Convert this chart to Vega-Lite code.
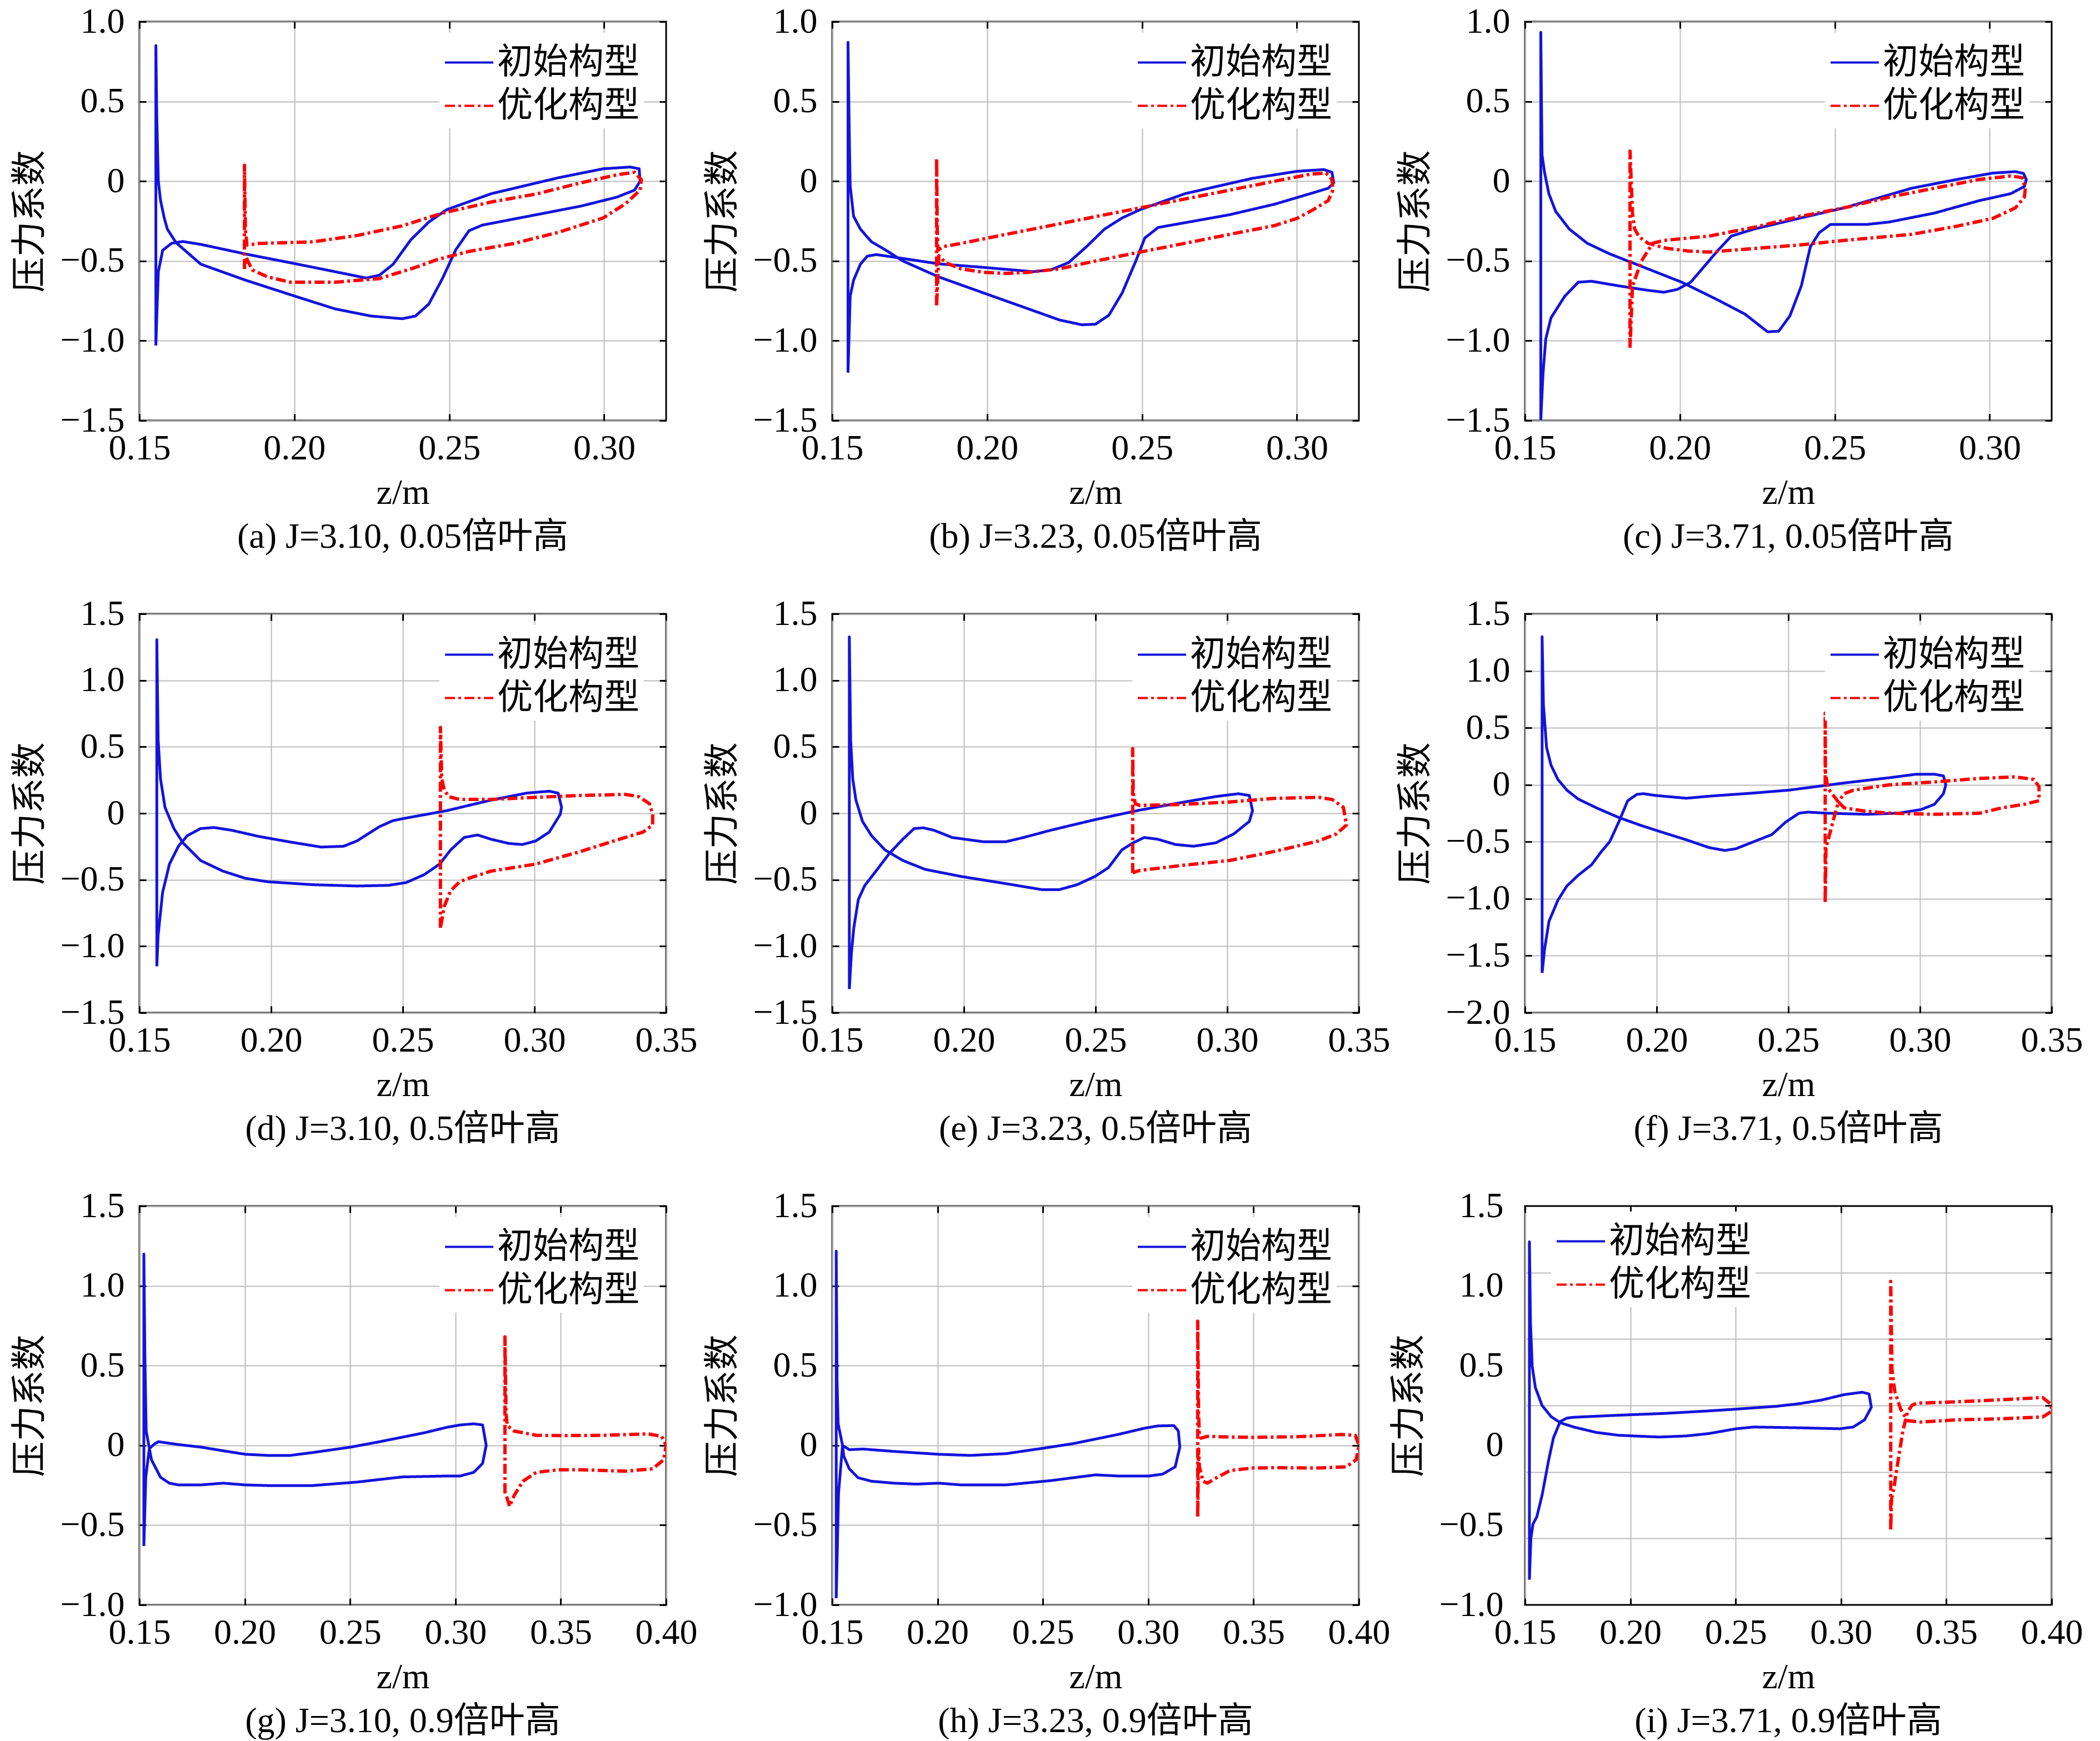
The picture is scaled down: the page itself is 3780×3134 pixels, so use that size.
{
  "$schema": "https://vega.github.io/schema/vega-lite/v6.json",
  "background": "white",
  "padding": {"left": 21, "top": 5, "right": 5, "bottom": 5},
  "data": {"values": [
    {"p":"a","s":"初始构型","i":1,"x":0.1553,"y":-1.03},
    {"p":"a","s":"初始构型","i":2,"x":0.1553,"y":0.85},
    {"p":"a","s":"初始构型","i":3,"x":0.1556,"y":0.40},
    {"p":"a","s":"初始构型","i":4,"x":0.1561,"y":0.0},
    {"p":"a","s":"初始构型","i":5,"x":0.1568,"y":-0.12},
    {"p":"a","s":"初始构型","i":6,"x":0.1580,"y":-0.23},
    {"p":"a","s":"初始构型","i":7,"x":0.1590,"y":-0.30},
    {"p":"a","s":"初始构型","i":8,"x":0.1618,"y":-0.385},
    {"p":"a","s":"初始构型","i":9,"x":0.1698,"y":-0.52},
    {"p":"a","s":"初始构型","i":10,"x":0.1842,"y":-0.62},
    {"p":"a","s":"初始构型","i":11,"x":0.2001,"y":-0.72},
    {"p":"a","s":"初始构型","i":12,"x":0.2131,"y":-0.80},
    {"p":"a","s":"初始构型","i":13,"x":0.2247,"y":-0.845},
    {"p":"a","s":"初始构型","i":14,"x":0.2348,"y":-0.862},
    {"p":"a","s":"初始构型","i":15,"x":0.2391,"y":-0.845},
    {"p":"a","s":"初始构型","i":16,"x":0.2434,"y":-0.77},
    {"p":"a","s":"初始构型","i":17,"x":0.2478,"y":-0.61},
    {"p":"a","s":"初始构型","i":18,"x":0.2521,"y":-0.43},
    {"p":"a","s":"初始构型","i":19,"x":0.2564,"y":-0.31},
    {"p":"a","s":"初始构型","i":20,"x":0.2607,"y":-0.275},
    {"p":"a","s":"初始构型","i":21,"x":0.2781,"y":-0.21},
    {"p":"a","s":"初始构型","i":22,"x":0.2925,"y":-0.156},
    {"p":"a","s":"初始构型","i":23,"x":0.3041,"y":-0.10},
    {"p":"a","s":"初始构型","i":24,"x":0.3098,"y":-0.056},
    {"p":"a","s":"初始构型","i":25,"x":0.3116,"y":0.0},
    {"p":"a","s":"初始构型","i":26,"x":0.3113,"y":0.078},
    {"p":"a","s":"初始构型","i":27,"x":0.3084,"y":0.089},
    {"p":"a","s":"初始构型","i":28,"x":0.2997,"y":0.078},
    {"p":"a","s":"初始构型","i":29,"x":0.2853,"y":0.022},
    {"p":"a","s":"初始构型","i":30,"x":0.2636,"y":-0.078},
    {"p":"a","s":"初始构型","i":31,"x":0.2492,"y":-0.178},
    {"p":"a","s":"初始构型","i":32,"x":0.2434,"y":-0.256},
    {"p":"a","s":"初始构型","i":33,"x":0.2376,"y":-0.367},
    {"p":"a","s":"初始构型","i":34,"x":0.2319,"y":-0.52},
    {"p":"a","s":"初始构型","i":35,"x":0.2275,"y":-0.589},
    {"p":"a","s":"初始构型","i":36,"x":0.2232,"y":-0.607},
    {"p":"a","s":"初始构型","i":37,"x":0.2131,"y":-0.567},
    {"p":"a","s":"初始构型","i":38,"x":0.1987,"y":-0.511},
    {"p":"a","s":"初始构型","i":39,"x":0.1842,"y":-0.456},
    {"p":"a","s":"初始构型","i":40,"x":0.1698,"y":-0.396},
    {"p":"a","s":"初始构型","i":41,"x":0.1640,"y":-0.378},
    {"p":"a","s":"初始构型","i":42,"x":0.1604,"y":-0.389},
    {"p":"a","s":"初始构型","i":43,"x":0.1575,"y":-0.433},
    {"p":"a","s":"初始构型","i":44,"x":0.1561,"y":-0.567},
    {"p":"a","s":"初始构型","i":45,"x":0.1556,"y":-0.85},
    {"p":"a","s":"初始构型","i":46,"x":0.1553,"y":-1.03},

    {"p":"a","s":"优化构型","i":1,"x":0.1839,"y":-0.55},
    {"p":"a","s":"优化构型","i":2,"x":0.1839,"y":0.10},
    {"p":"a","s":"优化构型","i":3,"x":0.1842,"y":-0.30},
    {"p":"a","s":"优化构型","i":4,"x":0.1847,"y":-0.40},
    {"p":"a","s":"优化构型","i":5,"x":0.1886,"y":-0.39},
    {"p":"a","s":"优化构型","i":6,"x":0.2059,"y":-0.38},
    {"p":"a","s":"优化构型","i":7,"x":0.2203,"y":-0.34},
    {"p":"a","s":"优化构型","i":8,"x":0.2348,"y":-0.28},
    {"p":"a","s":"优化构型","i":9,"x":0.2478,"y":-0.20},
    {"p":"a","s":"优化构型","i":10,"x":0.2636,"y":-0.13},
    {"p":"a","s":"优化构型","i":11,"x":0.2781,"y":-0.08},
    {"p":"a","s":"优化构型","i":12,"x":0.2925,"y":-0.01},
    {"p":"a","s":"优化构型","i":13,"x":0.3041,"y":0.04},
    {"p":"a","s":"优化构型","i":14,"x":0.3098,"y":0.056},
    {"p":"a","s":"优化构型","i":15,"x":0.3120,"y":0.01},
    {"p":"a","s":"优化构型","i":16,"x":0.3116,"y":-0.056},
    {"p":"a","s":"优化构型","i":17,"x":0.3070,"y":-0.14},
    {"p":"a","s":"优化构型","i":18,"x":0.2997,"y":-0.23},
    {"p":"a","s":"优化构型","i":19,"x":0.2853,"y":-0.32},
    {"p":"a","s":"优化构型","i":20,"x":0.2709,"y":-0.39},
    {"p":"a","s":"优化构型","i":21,"x":0.2564,"y":-0.44},
    {"p":"a","s":"优化构型","i":22,"x":0.2463,"y":-0.49},
    {"p":"a","s":"优化构型","i":23,"x":0.2391,"y":-0.54},
    {"p":"a","s":"优化构型","i":24,"x":0.2275,"y":-0.61},
    {"p":"a","s":"优化构型","i":25,"x":0.2131,"y":-0.633},
    {"p":"a","s":"优化构型","i":26,"x":0.1987,"y":-0.633},
    {"p":"a","s":"优化构型","i":27,"x":0.1914,"y":-0.60},
    {"p":"a","s":"优化构型","i":28,"x":0.1864,"y":-0.556},
    {"p":"a","s":"优化构型","i":29,"x":0.1845,"y":-0.48},
    {"p":"a","s":"优化构型","i":30,"x":0.1839,"y":-0.55},

    {"p":"b","s":"初始构型","i":1,"x":0.1551,"y":-1.2},
    {"p":"b","s":"初始构型","i":2,"x":0.1551,"y":0.87},
    {"p":"b","s":"初始构型","i":3,"x":0.1555,"y":0.3},
    {"p":"b","s":"初始构型","i":4,"x":0.1558,"y":-0.03},
    {"p":"b","s":"初始构型","i":5,"x":0.1569,"y":-0.22},
    {"p":"b","s":"初始构型","i":6,"x":0.1591,"y":-0.30},
    {"p":"b","s":"初始构型","i":7,"x":0.1613,"y":-0.35},
    {"p":"b","s":"初始构型","i":8,"x":0.1627,"y":-0.38},
    {"p":"b","s":"初始构型","i":9,"x":0.1671,"y":-0.43},
    {"p":"b","s":"初始构型","i":10,"x":0.1728,"y":-0.50},
    {"p":"b","s":"初始构型","i":11,"x":0.1844,"y":-0.60},
    {"p":"b","s":"初始构型","i":12,"x":0.1988,"y":-0.70},
    {"p":"b","s":"初始构型","i":13,"x":0.2133,"y":-0.80},
    {"p":"b","s":"初始构型","i":14,"x":0.2234,"y":-0.87},
    {"p":"b","s":"初始构型","i":15,"x":0.2306,"y":-0.90},
    {"p":"b","s":"初始构型","i":16,"x":0.2350,"y":-0.896},
    {"p":"b","s":"初始构型","i":17,"x":0.2393,"y":-0.84},
    {"p":"b","s":"初始构型","i":18,"x":0.2436,"y":-0.70},
    {"p":"b","s":"初始构型","i":19,"x":0.2480,"y":-0.50},
    {"p":"b","s":"初始构型","i":20,"x":0.2509,"y":-0.356},
    {"p":"b","s":"初始构型","i":21,"x":0.2552,"y":-0.29},
    {"p":"b","s":"初始构型","i":22,"x":0.2610,"y":-0.27},
    {"p":"b","s":"初始构型","i":23,"x":0.2783,"y":-0.21},
    {"p":"b","s":"初始构型","i":24,"x":0.2928,"y":-0.144},
    {"p":"b","s":"初始构型","i":25,"x":0.3043,"y":-0.078},
    {"p":"b","s":"初始构型","i":26,"x":0.3101,"y":-0.044},
    {"p":"b","s":"初始构型","i":27,"x":0.3119,"y":-0.01},
    {"p":"b","s":"初始构型","i":28,"x":0.3113,"y":0.056},
    {"p":"b","s":"初始构型","i":29,"x":0.3087,"y":0.073},
    {"p":"b","s":"初始构型","i":30,"x":0.3000,"y":0.062},
    {"p":"b","s":"初始构型","i":31,"x":0.2856,"y":0.018},
    {"p":"b","s":"初始构型","i":32,"x":0.2639,"y":-0.078},
    {"p":"b","s":"初始构型","i":33,"x":0.2494,"y":-0.178},
    {"p":"b","s":"初始构型","i":34,"x":0.2436,"y":-0.23},
    {"p":"b","s":"初始构型","i":35,"x":0.2379,"y":-0.30},
    {"p":"b","s":"初始构型","i":36,"x":0.2321,"y":-0.41},
    {"p":"b","s":"初始构型","i":37,"x":0.2263,"y":-0.51},
    {"p":"b","s":"初始构型","i":38,"x":0.2205,"y":-0.556},
    {"p":"b","s":"初始构型","i":39,"x":0.2147,"y":-0.567},
    {"p":"b","s":"初始构型","i":40,"x":0.1988,"y":-0.54},
    {"p":"b","s":"初始构型","i":41,"x":0.1844,"y":-0.518},
    {"p":"b","s":"初始构型","i":42,"x":0.1714,"y":-0.48},
    {"p":"b","s":"初始构型","i":43,"x":0.1642,"y":-0.46},
    {"p":"b","s":"初始构型","i":44,"x":0.1613,"y":-0.47},
    {"p":"b","s":"初始构型","i":45,"x":0.1591,"y":-0.52},
    {"p":"b","s":"初始构型","i":46,"x":0.1569,"y":-0.62},
    {"p":"b","s":"初始构型","i":47,"x":0.1558,"y":-0.72},
    {"p":"b","s":"初始构型","i":48,"x":0.1551,"y":-1.2},

    {"p":"b","s":"优化构型","i":1,"x":0.1837,"y":-0.778},
    {"p":"b","s":"优化构型","i":2,"x":0.1837,"y":0.144},
    {"p":"b","s":"优化构型","i":3,"x":0.1839,"y":-0.30},
    {"p":"b","s":"优化构型","i":4,"x":0.1841,"y":-0.433},
    {"p":"b","s":"优化构型","i":5,"x":0.1858,"y":-0.41},
    {"p":"b","s":"优化构型","i":6,"x":0.1916,"y":-0.39},
    {"p":"b","s":"优化构型","i":7,"x":0.2061,"y":-0.333},
    {"p":"b","s":"优化构型","i":8,"x":0.2205,"y":-0.278},
    {"p":"b","s":"优化构型","i":9,"x":0.2350,"y":-0.222},
    {"p":"b","s":"优化构型","i":10,"x":0.2494,"y":-0.167},
    {"p":"b","s":"优化构型","i":11,"x":0.2639,"y":-0.111},
    {"p":"b","s":"优化构型","i":12,"x":0.2783,"y":-0.056},
    {"p":"b","s":"优化构型","i":13,"x":0.2928,"y":0.0},
    {"p":"b","s":"优化构型","i":14,"x":0.3043,"y":0.044},
    {"p":"b","s":"优化构型","i":15,"x":0.3094,"y":0.051},
    {"p":"b","s":"优化构型","i":16,"x":0.3113,"y":0.011},
    {"p":"b","s":"优化构型","i":17,"x":0.3116,"y":-0.056},
    {"p":"b","s":"优化构型","i":18,"x":0.3101,"y":-0.122},
    {"p":"b","s":"优化构型","i":19,"x":0.3043,"y":-0.189},
    {"p":"b","s":"优化构型","i":20,"x":0.3000,"y":-0.233},
    {"p":"b","s":"优化构型","i":21,"x":0.2928,"y":-0.278},
    {"p":"b","s":"优化构型","i":22,"x":0.2783,"y":-0.333},
    {"p":"b","s":"优化构型","i":23,"x":0.2639,"y":-0.389},
    {"p":"b","s":"优化构型","i":24,"x":0.2494,"y":-0.444},
    {"p":"b","s":"优化构型","i":25,"x":0.2350,"y":-0.50},
    {"p":"b","s":"优化构型","i":26,"x":0.2234,"y":-0.549},
    {"p":"b","s":"优化构型","i":27,"x":0.2133,"y":-0.571},
    {"p":"b","s":"优化构型","i":28,"x":0.2061,"y":-0.578},
    {"p":"b","s":"优化构型","i":29,"x":0.1988,"y":-0.571},
    {"p":"b","s":"优化构型","i":30,"x":0.1916,"y":-0.549},
    {"p":"b","s":"优化构型","i":31,"x":0.1866,"y":-0.511},
    {"p":"b","s":"优化构型","i":32,"x":0.1844,"y":-0.467},
    {"p":"b","s":"优化构型","i":33,"x":0.1837,"y":-0.778},

    {"p":"c","s":"初始构型","i":1,"x":0.1551,"y":-1.496},
    {"p":"c","s":"初始构型","i":2,"x":0.1551,"y":0.933},
    {"p":"c","s":"初始构型","i":3,"x":0.1555,"y":0.167},
    {"p":"c","s":"初始构型","i":4,"x":0.1563,"y":0.056},
    {"p":"c","s":"初始构型","i":5,"x":0.1577,"y":-0.078},
    {"p":"c","s":"初始构型","i":6,"x":0.1599,"y":-0.189},
    {"p":"c","s":"初始构型","i":7,"x":0.1643,"y":-0.30},
    {"p":"c","s":"初始构型","i":8,"x":0.1701,"y":-0.389},
    {"p":"c","s":"初始构型","i":9,"x":0.1774,"y":-0.456},
    {"p":"c","s":"初始构型","i":10,"x":0.1875,"y":-0.533},
    {"p":"c","s":"初始构型","i":11,"x":0.2006,"y":-0.633},
    {"p":"c","s":"初始构型","i":12,"x":0.2122,"y":-0.744},
    {"p":"c","s":"初始构型","i":13,"x":0.2210,"y":-0.833},
    {"p":"c","s":"初始构型","i":14,"x":0.2283,"y":-0.944},
    {"p":"c","s":"初始构型","i":15,"x":0.2319,"y":-0.94},
    {"p":"c","s":"初始构型","i":16,"x":0.2355,"y":-0.844},
    {"p":"c","s":"初始构型","i":17,"x":0.2392,"y":-0.656},
    {"p":"c","s":"初始构型","i":18,"x":0.2421,"y":-0.411},
    {"p":"c","s":"初始构型","i":19,"x":0.2450,"y":-0.322},
    {"p":"c","s":"初始构型","i":20,"x":0.2486,"y":-0.271},
    {"p":"c","s":"初始构型","i":21,"x":0.2530,"y":-0.271},
    {"p":"c","s":"初始构型","i":22,"x":0.2603,"y":-0.271},
    {"p":"c","s":"初始构型","i":23,"x":0.2675,"y":-0.256},
    {"p":"c","s":"初始构型","i":24,"x":0.2821,"y":-0.20},
    {"p":"c","s":"初始构型","i":25,"x":0.2966,"y":-0.122},
    {"p":"c","s":"初始构型","i":26,"x":0.3068,"y":-0.078},
    {"p":"c","s":"初始构型","i":27,"x":0.3112,"y":-0.033},
    {"p":"c","s":"初始构型","i":28,"x":0.3118,"y":0.011},
    {"p":"c","s":"初始构型","i":29,"x":0.3109,"y":0.049},
    {"p":"c","s":"初始构型","i":30,"x":0.3083,"y":0.06},
    {"p":"c","s":"初始构型","i":31,"x":0.3010,"y":0.051},
    {"p":"c","s":"初始构型","i":32,"x":0.2894,"y":0.011},
    {"p":"c","s":"初始构型","i":33,"x":0.2748,"y":-0.044},
    {"p":"c","s":"初始构型","i":34,"x":0.2530,"y":-0.167},
    {"p":"c","s":"初始构型","i":35,"x":0.2384,"y":-0.233},
    {"p":"c","s":"初始构型","i":36,"x":0.2239,"y":-0.30},
    {"p":"c","s":"初始构型","i":37,"x":0.2166,"y":-0.344},
    {"p":"c","s":"初始构型","i":38,"x":0.2123,"y":-0.433},
    {"p":"c","s":"初始构型","i":39,"x":0.2079,"y":-0.533},
    {"p":"c","s":"初始构型","i":40,"x":0.2035,"y":-0.633},
    {"p":"c","s":"初始构型","i":41,"x":0.1992,"y":-0.678},
    {"p":"c","s":"初始构型","i":42,"x":0.1948,"y":-0.696},
    {"p":"c","s":"初始构型","i":43,"x":0.1890,"y":-0.682},
    {"p":"c","s":"初始构型","i":44,"x":0.1803,"y":-0.656},
    {"p":"c","s":"初始构型","i":45,"x":0.1715,"y":-0.627},
    {"p":"c","s":"初始构型","i":46,"x":0.1672,"y":-0.633},
    {"p":"c","s":"初始构型","i":47,"x":0.1628,"y":-0.722},
    {"p":"c","s":"初始构型","i":48,"x":0.1584,"y":-0.856},
    {"p":"c","s":"初始构型","i":49,"x":0.1567,"y":-0.989},
    {"p":"c","s":"初始构型","i":50,"x":0.1558,"y":-1.211},
    {"p":"c","s":"初始构型","i":51,"x":0.1551,"y":-1.496},

    {"p":"c","s":"优化构型","i":1,"x":0.1839,"y":-1.044},
    {"p":"c","s":"优化构型","i":2,"x":0.1839,"y":0.189},
    {"p":"c","s":"优化构型","i":3,"x":0.1847,"y":-0.20},
    {"p":"c","s":"优化构型","i":4,"x":0.1854,"y":-0.30},
    {"p":"c","s":"优化构型","i":5,"x":0.1869,"y":-0.35},
    {"p":"c","s":"优化构型","i":6,"x":0.1898,"y":-0.39},
    {"p":"c","s":"优化构型","i":7,"x":0.1956,"y":-0.42},
    {"p":"c","s":"优化构型","i":8,"x":0.2029,"y":-0.438},
    {"p":"c","s":"优化构型","i":9,"x":0.2094,"y":-0.444},
    {"p":"c","s":"优化构型","i":10,"x":0.2239,"y":-0.422},
    {"p":"c","s":"优化构型","i":11,"x":0.2384,"y":-0.40},
    {"p":"c","s":"优化构型","i":12,"x":0.2530,"y":-0.371},
    {"p":"c","s":"优化构型","i":13,"x":0.2748,"y":-0.333},
    {"p":"c","s":"优化构型","i":14,"x":0.2894,"y":-0.282},
    {"p":"c","s":"优化构型","i":15,"x":0.3010,"y":-0.233},
    {"p":"c","s":"优化构型","i":16,"x":0.3083,"y":-0.167},
    {"p":"c","s":"优化构型","i":17,"x":0.3112,"y":-0.10},
    {"p":"c","s":"优化构型","i":18,"x":0.3115,"y":-0.044},
    {"p":"c","s":"优化构型","i":19,"x":0.3105,"y":0.022},
    {"p":"c","s":"优化构型","i":20,"x":0.3068,"y":0.033},
    {"p":"c","s":"优化构型","i":21,"x":0.2966,"y":0.011},
    {"p":"c","s":"优化构型","i":22,"x":0.2821,"y":-0.044},
    {"p":"c","s":"优化构型","i":23,"x":0.2675,"y":-0.10},
    {"p":"c","s":"优化构型","i":24,"x":0.2530,"y":-0.167},
    {"p":"c","s":"优化构型","i":25,"x":0.2384,"y":-0.222},
    {"p":"c","s":"优化构型","i":26,"x":0.2239,"y":-0.289},
    {"p":"c","s":"优化构型","i":27,"x":0.2094,"y":-0.344},
    {"p":"c","s":"优化构型","i":28,"x":0.1948,"y":-0.371},
    {"p":"c","s":"优化构型","i":29,"x":0.1912,"y":-0.389},
    {"p":"c","s":"优化构型","i":30,"x":0.1876,"y":-0.50},
    {"p":"c","s":"优化构型","i":31,"x":0.1847,"y":-0.656},
    {"p":"c","s":"优化构型","i":32,"x":0.1839,"y":-1.044},

    {"p":"d","s":"初始构型","i":1,"x":0.1566,"y":-1.151},
    {"p":"d","s":"初始构型","i":2,"x":0.1566,"y":1.306},
    {"p":"d","s":"初始构型","i":3,"x":0.1571,"y":0.553},
    {"p":"d","s":"初始构型","i":4,"x":0.1580,"y":0.259},
    {"p":"d","s":"初始构型","i":5,"x":0.1597,"y":0.045},
    {"p":"d","s":"初始构型","i":6,"x":0.1631,"y":-0.115},
    {"p":"d","s":"初始构型","i":7,"x":0.1665,"y":-0.222},
    {"p":"d","s":"初始构型","i":8,"x":0.1732,"y":-0.355},
    {"p":"d","s":"初始构型","i":9,"x":0.1817,"y":-0.435},
    {"p":"d","s":"初始构型","i":10,"x":0.1902,"y":-0.489},
    {"p":"d","s":"初始构型","i":11,"x":0.1987,"y":-0.515},
    {"p":"d","s":"初始构型","i":12,"x":0.2157,"y":-0.537},
    {"p":"d","s":"初始构型","i":13,"x":0.2326,"y":-0.547},
    {"p":"d","s":"初始构型","i":14,"x":0.2445,"y":-0.542},
    {"p":"d","s":"初始构型","i":15,"x":0.2513,"y":-0.521},
    {"p":"d","s":"初始构型","i":16,"x":0.2581,"y":-0.462},
    {"p":"d","s":"初始构型","i":17,"x":0.2640,"y":-0.382},
    {"p":"d","s":"初始构型","i":18,"x":0.2682,"y":-0.275},
    {"p":"d","s":"初始构型","i":19,"x":0.2733,"y":-0.182},
    {"p":"d","s":"初始构型","i":20,"x":0.2784,"y":-0.163},
    {"p":"d","s":"初始构型","i":21,"x":0.2835,"y":-0.195},
    {"p":"d","s":"初始构型","i":22,"x":0.2903,"y":-0.227},
    {"p":"d","s":"初始构型","i":23,"x":0.2954,"y":-0.235},
    {"p":"d","s":"初始构型","i":24,"x":0.3005,"y":-0.208},
    {"p":"d","s":"初始构型","i":25,"x":0.3056,"y":-0.142},
    {"p":"d","s":"初始构型","i":26,"x":0.3098,"y":-0.008},
    {"p":"d","s":"初始构型","i":27,"x":0.3103,"y":0.045},
    {"p":"d","s":"初始构型","i":28,"x":0.3090,"y":0.152},
    {"p":"d","s":"初始构型","i":29,"x":0.3056,"y":0.166},
    {"p":"d","s":"初始构型","i":30,"x":0.2971,"y":0.152},
    {"p":"d","s":"初始构型","i":31,"x":0.2835,"y":0.099},
    {"p":"d","s":"初始构型","i":32,"x":0.2665,"y":0.019},
    {"p":"d","s":"初始构型","i":33,"x":0.2501,"y":-0.04},
    {"p":"d","s":"初始构型","i":34,"x":0.2462,"y":-0.056},
    {"p":"d","s":"初始构型","i":35,"x":0.2411,"y":-0.101},
    {"p":"d","s":"初始构型","i":36,"x":0.2326,"y":-0.208},
    {"p":"d","s":"初始构型","i":37,"x":0.2275,"y":-0.248},
    {"p":"d","s":"初始构型","i":38,"x":0.2190,"y":-0.254},
    {"p":"d","s":"初始构型","i":39,"x":0.2072,"y":-0.216},
    {"p":"d","s":"初始构型","i":40,"x":0.1953,"y":-0.174},
    {"p":"d","s":"初始构型","i":41,"x":0.1851,"y":-0.128},
    {"p":"d","s":"初始构型","i":42,"x":0.1783,"y":-0.107},
    {"p":"d","s":"初始构型","i":43,"x":0.1732,"y":-0.115},
    {"p":"d","s":"初始构型","i":44,"x":0.1682,"y":-0.168},
    {"p":"d","s":"初始构型","i":45,"x":0.1648,"y":-0.248},
    {"p":"d","s":"初始构型","i":46,"x":0.1614,"y":-0.382},
    {"p":"d","s":"初始构型","i":47,"x":0.1588,"y":-0.595},
    {"p":"d","s":"初始构型","i":48,"x":0.1571,"y":-0.916},
    {"p":"d","s":"初始构型","i":49,"x":0.1566,"y":-1.151},

    {"p":"d","s":"优化构型","i":1,"x":0.2643,"y":-0.862},
    {"p":"d","s":"优化构型","i":2,"x":0.2643,"y":0.646},
    {"p":"d","s":"优化构型","i":3,"x":0.2648,"y":0.259},
    {"p":"d","s":"优化构型","i":4,"x":0.2657,"y":0.179},
    {"p":"d","s":"优化构型","i":5,"x":0.2674,"y":0.125},
    {"p":"d","s":"优化构型","i":6,"x":0.2716,"y":0.104},
    {"p":"d","s":"优化构型","i":7,"x":0.2835,"y":0.104},
    {"p":"d","s":"优化构型","i":8,"x":0.3005,"y":0.12},
    {"p":"d","s":"优化构型","i":9,"x":0.3174,"y":0.134},
    {"p":"d","s":"优化构型","i":10,"x":0.3344,"y":0.142},
    {"p":"d","s":"优化构型","i":11,"x":0.3395,"y":0.126},
    {"p":"d","s":"优化构型","i":12,"x":0.3437,"y":0.072},
    {"p":"d","s":"优化构型","i":13,"x":0.3449,"y":-0.008},
    {"p":"d","s":"优化构型","i":14,"x":0.3449,"y":-0.088},
    {"p":"d","s":"优化构型","i":15,"x":0.3412,"y":-0.142},
    {"p":"d","s":"优化构型","i":16,"x":0.3344,"y":-0.182},
    {"p":"d","s":"优化构型","i":17,"x":0.3174,"y":-0.288},
    {"p":"d","s":"优化构型","i":18,"x":0.3005,"y":-0.382},
    {"p":"d","s":"优化构型","i":19,"x":0.2835,"y":-0.435},
    {"p":"d","s":"优化构型","i":20,"x":0.2750,"y":-0.489},
    {"p":"d","s":"优化构型","i":21,"x":0.2716,"y":-0.515},
    {"p":"d","s":"优化构型","i":22,"x":0.2682,"y":-0.582},
    {"p":"d","s":"优化构型","i":23,"x":0.2657,"y":-0.702},
    {"p":"d","s":"优化构型","i":24,"x":0.2648,"y":-0.809},
    {"p":"d","s":"优化构型","i":25,"x":0.2643,"y":-0.862},

    {"p":"e","s":"初始构型","i":1,"x":0.1565,"y":-1.322},
    {"p":"e","s":"初始构型","i":2,"x":0.1565,"y":1.327},
    {"p":"e","s":"初始构型","i":3,"x":0.1570,"y":0.553},
    {"p":"e","s":"初始构型","i":4,"x":0.1578,"y":0.259},
    {"p":"e","s":"初始构型","i":5,"x":0.1590,"y":0.099},
    {"p":"e","s":"初始构型","i":6,"x":0.1615,"y":-0.061},
    {"p":"e","s":"初始构型","i":7,"x":0.1649,"y":-0.168},
    {"p":"e","s":"初始构型","i":8,"x":0.1700,"y":-0.275},
    {"p":"e","s":"初始构型","i":9,"x":0.1768,"y":-0.355},
    {"p":"e","s":"初始构型","i":10,"x":0.1853,"y":-0.422},
    {"p":"e","s":"初始构型","i":11,"x":0.1989,"y":-0.475},
    {"p":"e","s":"初始构型","i":12,"x":0.2159,"y":-0.529},
    {"p":"e","s":"初始构型","i":13,"x":0.2295,"y":-0.574},
    {"p":"e","s":"初始构型","i":14,"x":0.2363,"y":-0.574},
    {"p":"e","s":"初始构型","i":15,"x":0.2430,"y":-0.537},
    {"p":"e","s":"初始构型","i":16,"x":0.2498,"y":-0.475},
    {"p":"e","s":"初始构型","i":17,"x":0.2549,"y":-0.409},
    {"p":"e","s":"初始构型","i":18,"x":0.2600,"y":-0.275},
    {"p":"e","s":"初始构型","i":19,"x":0.2643,"y":-0.222},
    {"p":"e","s":"初始构型","i":20,"x":0.2685,"y":-0.182},
    {"p":"e","s":"初始构型","i":21,"x":0.2736,"y":-0.195},
    {"p":"e","s":"初始构型","i":22,"x":0.2804,"y":-0.235},
    {"p":"e","s":"初始构型","i":23,"x":0.2872,"y":-0.248},
    {"p":"e","s":"初始构型","i":24,"x":0.2957,"y":-0.222},
    {"p":"e","s":"初始构型","i":25,"x":0.3025,"y":-0.155},
    {"p":"e","s":"初始构型","i":26,"x":0.3084,"y":-0.061},
    {"p":"e","s":"初始构型","i":27,"x":0.3096,"y":0.019},
    {"p":"e","s":"初始构型","i":28,"x":0.3084,"y":0.134},
    {"p":"e","s":"初始构型","i":29,"x":0.3042,"y":0.147},
    {"p":"e","s":"初始构型","i":30,"x":0.2957,"y":0.126},
    {"p":"e","s":"初始构型","i":31,"x":0.2838,"y":0.085},
    {"p":"e","s":"初始构型","i":32,"x":0.2668,"y":0.024},
    {"p":"e","s":"初始构型","i":33,"x":0.2498,"y":-0.048},
    {"p":"e","s":"初始构型","i":34,"x":0.2413,"y":-0.088},
    {"p":"e","s":"初始构型","i":35,"x":0.2329,"y":-0.128},
    {"p":"e","s":"初始构型","i":36,"x":0.2227,"y":-0.182},
    {"p":"e","s":"初始构型","i":37,"x":0.2159,"y":-0.214},
    {"p":"e","s":"初始构型","i":38,"x":0.2074,"y":-0.214},
    {"p":"e","s":"初始构型","i":39,"x":0.1955,"y":-0.182},
    {"p":"e","s":"初始构型","i":40,"x":0.1887,"y":-0.128},
    {"p":"e","s":"初始构型","i":41,"x":0.1845,"y":-0.109},
    {"p":"e","s":"初始构型","i":42,"x":0.1811,"y":-0.115},
    {"p":"e","s":"初始构型","i":43,"x":0.1768,"y":-0.195},
    {"p":"e","s":"初始构型","i":44,"x":0.1717,"y":-0.302},
    {"p":"e","s":"初始构型","i":45,"x":0.1666,"y":-0.435},
    {"p":"e","s":"初始构型","i":46,"x":0.1624,"y":-0.542},
    {"p":"e","s":"初始构型","i":47,"x":0.1599,"y":-0.649},
    {"p":"e","s":"初始构型","i":48,"x":0.1582,"y":-0.862},
    {"p":"e","s":"初始构型","i":49,"x":0.1573,"y":-1.049},
    {"p":"e","s":"初始构型","i":50,"x":0.1565,"y":-1.322},

    {"p":"e","s":"优化构型","i":1,"x":0.2641,"y":-0.449},
    {"p":"e","s":"优化构型","i":2,"x":0.2641,"y":0.486},
    {"p":"e","s":"优化构型","i":3,"x":0.2643,"y":0.152},
    {"p":"e","s":"优化构型","i":4,"x":0.2651,"y":0.072},
    {"p":"e","s":"优化构型","i":5,"x":0.2668,"y":0.059},
    {"p":"e","s":"优化构型","i":6,"x":0.2838,"y":0.067},
    {"p":"e","s":"优化构型","i":7,"x":0.3008,"y":0.085},
    {"p":"e","s":"优化构型","i":8,"x":0.3177,"y":0.112},
    {"p":"e","s":"优化构型","i":9,"x":0.3347,"y":0.12},
    {"p":"e","s":"优化构型","i":10,"x":0.3398,"y":0.104},
    {"p":"e","s":"优化构型","i":11,"x":0.3441,"y":0.045},
    {"p":"e","s":"优化构型","i":12,"x":0.3453,"y":-0.088},
    {"p":"e","s":"优化构型","i":13,"x":0.3415,"y":-0.155},
    {"p":"e","s":"优化构型","i":14,"x":0.3347,"y":-0.208},
    {"p":"e","s":"优化构型","i":15,"x":0.3177,"y":-0.288},
    {"p":"e","s":"优化构型","i":16,"x":0.3008,"y":-0.355},
    {"p":"e","s":"优化构型","i":17,"x":0.2838,"y":-0.39},
    {"p":"e","s":"优化构型","i":18,"x":0.2668,"y":-0.43},
    {"p":"e","s":"优化构型","i":19,"x":0.2651,"y":-0.44},
    {"p":"e","s":"优化构型","i":20,"x":0.2641,"y":-0.449},

    {"p":"f","s":"初始构型","i":1,"x":0.1565,"y":-1.651},
    {"p":"f","s":"初始构型","i":2,"x":0.1565,"y":1.299},
    {"p":"f","s":"初始构型","i":3,"x":0.1570,"y":0.70},
    {"p":"f","s":"初始构型","i":4,"x":0.1582,"y":0.327},
    {"p":"f","s":"初始构型","i":5,"x":0.1599,"y":0.171},
    {"p":"f","s":"初始构型","i":6,"x":0.1625,"y":0.047},
    {"p":"f","s":"初始构型","i":7,"x":0.1659,"y":-0.047},
    {"p":"f","s":"初始构型","i":8,"x":0.1702,"y":-0.125},
    {"p":"f","s":"初始构型","i":9,"x":0.1771,"y":-0.202},
    {"p":"f","s":"初始构型","i":10,"x":0.1856,"y":-0.287},
    {"p":"f","s":"初始构型","i":11,"x":0.1942,"y":-0.358},
    {"p":"f","s":"初始构型","i":12,"x":0.2027,"y":-0.421},
    {"p":"f","s":"初始构型","i":13,"x":0.2113,"y":-0.483},
    {"p":"f","s":"初始构型","i":14,"x":0.2199,"y":-0.551},
    {"p":"f","s":"初始构型","i":15,"x":0.2259,"y":-0.576},
    {"p":"f","s":"初始构型","i":16,"x":0.2301,"y":-0.561},
    {"p":"f","s":"初始构型","i":17,"x":0.2370,"y":-0.498},
    {"p":"f","s":"初始构型","i":18,"x":0.2438,"y":-0.436},
    {"p":"f","s":"初始构型","i":19,"x":0.2490,"y":-0.327},
    {"p":"f","s":"初始构型","i":20,"x":0.2541,"y":-0.249},
    {"p":"f","s":"初始构型","i":21,"x":0.2575,"y":-0.24},
    {"p":"f","s":"初始构型","i":22,"x":0.2644,"y":-0.249},
    {"p":"f","s":"初始构型","i":23,"x":0.2798,"y":-0.259},
    {"p":"f","s":"初始构型","i":24,"x":0.2918,"y":-0.249},
    {"p":"f","s":"初始构型","i":25,"x":0.3003,"y":-0.218},
    {"p":"f","s":"初始构型","i":26,"x":0.3055,"y":-0.171},
    {"p":"f","s":"初始构型","i":27,"x":0.3089,"y":-0.078},
    {"p":"f","s":"初始构型","i":28,"x":0.3098,"y":0.0},
    {"p":"f","s":"初始构型","i":29,"x":0.3089,"y":0.078},
    {"p":"f","s":"初始构型","i":30,"x":0.3055,"y":0.093},
    {"p":"f","s":"初始构型","i":31,"x":0.2986,"y":0.093},
    {"p":"f","s":"初始构型","i":32,"x":0.2884,"y":0.062},
    {"p":"f","s":"初始构型","i":33,"x":0.2712,"y":0.016},
    {"p":"f","s":"初始构型","i":34,"x":0.2502,"y":-0.047},
    {"p":"f","s":"初始构型","i":35,"x":0.2370,"y":-0.072},
    {"p":"f","s":"初始构型","i":36,"x":0.2199,"y":-0.10},
    {"p":"f","s":"初始构型","i":37,"x":0.2113,"y":-0.118},
    {"p":"f","s":"初始构型","i":38,"x":0.1993,"y":-0.093},
    {"p":"f","s":"初始构型","i":39,"x":0.1950,"y":-0.078},
    {"p":"f","s":"初始构型","i":40,"x":0.1925,"y":-0.084},
    {"p":"f","s":"初始构型","i":41,"x":0.1890,"y":-0.14},
    {"p":"f","s":"初始构型","i":42,"x":0.1856,"y":-0.327},
    {"p":"f","s":"初始构型","i":43,"x":0.1822,"y":-0.498},
    {"p":"f","s":"初始构型","i":44,"x":0.1788,"y":-0.592},
    {"p":"f","s":"初始构型","i":45,"x":0.1753,"y":-0.701},
    {"p":"f","s":"初始构型","i":46,"x":0.1702,"y":-0.794},
    {"p":"f","s":"初始构型","i":47,"x":0.1659,"y":-0.888},
    {"p":"f","s":"初始构型","i":48,"x":0.1625,"y":-1.012},
    {"p":"f","s":"初始构型","i":49,"x":0.1591,"y":-1.199},
    {"p":"f","s":"初始构型","i":50,"x":0.1574,"y":-1.449},
    {"p":"f","s":"初始构型","i":51,"x":0.1565,"y":-1.651},

    {"p":"f","s":"优化构型","i":1,"x":0.2640,"y":-1.028},
    {"p":"f","s":"优化构型","i":2,"x":0.2640,"y":0.629},
    {"p":"f","s":"优化构型","i":3,"x":0.2641,"y":0.11},
    {"p":"f","s":"优化构型","i":4,"x":0.2650,"y":-0.03},
    {"p":"f","s":"优化构型","i":5,"x":0.2690,"y":-0.15},
    {"p":"f","s":"优化构型","i":6,"x":0.2712,"y":-0.078},
    {"p":"f","s":"优化构型","i":7,"x":0.2747,"y":-0.047},
    {"p":"f","s":"优化构型","i":8,"x":0.2884,"y":0.0},
    {"p":"f","s":"优化构型","i":9,"x":0.3055,"y":0.025},
    {"p":"f","s":"优化构型","i":10,"x":0.3226,"y":0.056},
    {"p":"f","s":"优化构型","i":11,"x":0.3363,"y":0.069},
    {"p":"f","s":"优化构型","i":12,"x":0.3432,"y":0.047},
    {"p":"f","s":"优化构型","i":13,"x":0.3452,"y":-0.016},
    {"p":"f","s":"优化构型","i":14,"x":0.3452,"y":-0.14},
    {"p":"f","s":"优化构型","i":15,"x":0.3397,"y":-0.171},
    {"p":"f","s":"优化构型","i":16,"x":0.3312,"y":-0.202},
    {"p":"f","s":"优化构型","i":17,"x":0.3226,"y":-0.249},
    {"p":"f","s":"优化构型","i":18,"x":0.3055,"y":-0.259},
    {"p":"f","s":"优化构型","i":19,"x":0.2884,"y":-0.249},
    {"p":"f","s":"优化构型","i":20,"x":0.2798,"y":-0.234},
    {"p":"f","s":"优化构型","i":21,"x":0.2712,"y":-0.202},
    {"p":"f","s":"优化构型","i":22,"x":0.2690,"y":-0.15},
    {"p":"f","s":"优化构型","i":23,"x":0.2672,"y":-0.30},
    {"p":"f","s":"优化构型","i":24,"x":0.2655,"y":-0.45},
    {"p":"f","s":"优化构型","i":25,"x":0.2643,"y":-0.55},
    {"p":"f","s":"优化构型","i":26,"x":0.2640,"y":-1.028},

    {"p":"g","s":"初始构型","i":1,"x":0.1521,"y":-0.631},
    {"p":"g","s":"初始构型","i":2,"x":0.1521,"y":1.199},
    {"p":"g","s":"初始构型","i":3,"x":0.1526,"y":0.541},
    {"p":"g","s":"初始构型","i":4,"x":0.1532,"y":0.09},
    {"p":"g","s":"初始构型","i":5,"x":0.1557,"y":-0.09},
    {"p":"g","s":"初始构型","i":6,"x":0.1600,"y":-0.20},
    {"p":"g","s":"初始构型","i":7,"x":0.1642,"y":-0.237},
    {"p":"g","s":"初始构型","i":8,"x":0.1685,"y":-0.248},
    {"p":"g","s":"初始构型","i":9,"x":0.1791,"y":-0.248},
    {"p":"g","s":"初始构型","i":10,"x":0.1897,"y":-0.237},
    {"p":"g","s":"初始构型","i":11,"x":0.2003,"y":-0.248},
    {"p":"g","s":"初始构型","i":12,"x":0.2110,"y":-0.252},
    {"p":"g","s":"初始构型","i":13,"x":0.2322,"y":-0.252},
    {"p":"g","s":"初始构型","i":14,"x":0.2534,"y":-0.23},
    {"p":"g","s":"初始构型","i":15,"x":0.2747,"y":-0.198},
    {"p":"g","s":"初始构型","i":16,"x":0.2959,"y":-0.192},
    {"p":"g","s":"初始构型","i":17,"x":0.3023,"y":-0.192},
    {"p":"g","s":"初始构型","i":18,"x":0.3087,"y":-0.169},
    {"p":"g","s":"初始构型","i":19,"x":0.3129,"y":-0.113},
    {"p":"g","s":"初始构型","i":20,"x":0.3146,"y":0.0},
    {"p":"g","s":"初始构型","i":21,"x":0.3129,"y":0.128},
    {"p":"g","s":"初始构型","i":22,"x":0.3087,"y":0.135},
    {"p":"g","s":"初始构型","i":23,"x":0.3023,"y":0.128},
    {"p":"g","s":"初始构型","i":24,"x":0.2959,"y":0.113},
    {"p":"g","s":"初始构型","i":25,"x":0.2853,"y":0.079},
    {"p":"g","s":"初始构型","i":26,"x":0.2641,"y":0.023},
    {"p":"g","s":"初始构型","i":27,"x":0.2503,"y":-0.011},
    {"p":"g","s":"初始构型","i":28,"x":0.2322,"y":-0.045},
    {"p":"g","s":"初始构型","i":29,"x":0.2216,"y":-0.063},
    {"p":"g","s":"初始构型","i":30,"x":0.2110,"y":-0.063},
    {"p":"g","s":"初始构型","i":31,"x":0.2003,"y":-0.056},
    {"p":"g","s":"初始构型","i":32,"x":0.1897,"y":-0.034},
    {"p":"g","s":"初始构型","i":33,"x":0.1791,"y":-0.011},
    {"p":"g","s":"初始构型","i":34,"x":0.1685,"y":0.005},
    {"p":"g","s":"初始构型","i":35,"x":0.1589,"y":0.023},
    {"p":"g","s":"初始构型","i":36,"x":0.1568,"y":0.005},
    {"p":"g","s":"初始构型","i":37,"x":0.1547,"y":-0.02},
    {"p":"g","s":"初始构型","i":38,"x":0.1530,"y":-0.20},
    {"p":"g","s":"初始构型","i":39,"x":0.1521,"y":-0.631},

    {"p":"g","s":"优化构型","i":1,"x":0.3235,"y":-0.30},
    {"p":"g","s":"优化构型","i":2,"x":0.3235,"y":0.68},
    {"p":"g","s":"优化构型","i":3,"x":0.3240,"y":0.20},
    {"p":"g","s":"优化构型","i":4,"x":0.3246,"y":0.124},
    {"p":"g","s":"优化构型","i":5,"x":0.3278,"y":0.09},
    {"p":"g","s":"优化构型","i":6,"x":0.3384,"y":0.063},
    {"p":"g","s":"优化构型","i":7,"x":0.3490,"y":0.061},
    {"p":"g","s":"优化构型","i":8,"x":0.3703,"y":0.063},
    {"p":"g","s":"优化构型","i":9,"x":0.3915,"y":0.072},
    {"p":"g","s":"优化构型","i":10,"x":0.3979,"y":0.056},
    {"p":"g","s":"优化构型","i":11,"x":0.4000,"y":0.0},
    {"p":"g","s":"优化构型","i":12,"x":0.3989,"y":-0.09},
    {"p":"g","s":"优化构型","i":13,"x":0.3936,"y":-0.147},
    {"p":"g","s":"优化构型","i":14,"x":0.3809,"y":-0.162},
    {"p":"g","s":"优化构型","i":15,"x":0.3596,"y":-0.153},
    {"p":"g","s":"优化构型","i":16,"x":0.3490,"y":-0.153},
    {"p":"g","s":"优化构型","i":17,"x":0.3384,"y":-0.169},
    {"p":"g","s":"优化构型","i":18,"x":0.3320,"y":-0.225},
    {"p":"g","s":"优化构型","i":19,"x":0.3278,"y":-0.316},
    {"p":"g","s":"优化构型","i":20,"x":0.3257,"y":-0.383},
    {"p":"g","s":"优化构型","i":21,"x":0.3242,"y":-0.316},
    {"p":"g","s":"优化构型","i":22,"x":0.3235,"y":-0.30},

    {"p":"h","s":"初始构型","i":1,"x":0.1519,"y":-0.958},
    {"p":"h","s":"初始构型","i":2,"x":0.1519,"y":1.217},
    {"p":"h","s":"初始构型","i":3,"x":0.1523,"y":0.40},
    {"p":"h","s":"初始构型","i":4,"x":0.1528,"y":0.135},
    {"p":"h","s":"初始构型","i":5,"x":0.1549,"y":0.0},
    {"p":"h","s":"初始构型","i":6,"x":0.1555,"y":-0.068},
    {"p":"h","s":"初始构型","i":7,"x":0.1581,"y":-0.147},
    {"p":"h","s":"初始构型","i":8,"x":0.1623,"y":-0.203},
    {"p":"h","s":"初始构型","i":9,"x":0.1687,"y":-0.225},
    {"p":"h","s":"初始构型","i":10,"x":0.1793,"y":-0.237},
    {"p":"h","s":"初始构型","i":11,"x":0.1900,"y":-0.243},
    {"p":"h","s":"初始构型","i":12,"x":0.2006,"y":-0.237},
    {"p":"h","s":"初始构型","i":13,"x":0.2112,"y":-0.248},
    {"p":"h","s":"初始构型","i":14,"x":0.2325,"y":-0.248},
    {"p":"h","s":"初始构型","i":15,"x":0.2537,"y":-0.221},
    {"p":"h","s":"初始构型","i":16,"x":0.2750,"y":-0.185},
    {"p":"h","s":"初始构型","i":17,"x":0.2856,"y":-0.192},
    {"p":"h","s":"初始构型","i":18,"x":0.3005,"y":-0.192},
    {"p":"h","s":"初始构型","i":19,"x":0.3069,"y":-0.18},
    {"p":"h","s":"初始构型","i":20,"x":0.3128,"y":-0.135},
    {"p":"h","s":"初始构型","i":21,"x":0.3150,"y":-0.011},
    {"p":"h","s":"初始构型","i":22,"x":0.3143,"y":0.09},
    {"p":"h","s":"初始构型","i":23,"x":0.3122,"y":0.124},
    {"p":"h","s":"初始构型","i":24,"x":0.3048,"y":0.122},
    {"p":"h","s":"初始构型","i":25,"x":0.2984,"y":0.108},
    {"p":"h","s":"初始构型","i":26,"x":0.2856,"y":0.068},
    {"p":"h","s":"初始构型","i":27,"x":0.2644,"y":0.011},
    {"p":"h","s":"初始构型","i":28,"x":0.2501,"y":-0.018},
    {"p":"h","s":"初始构型","i":29,"x":0.2325,"y":-0.052},
    {"p":"h","s":"初始构型","i":30,"x":0.2155,"y":-0.063},
    {"p":"h","s":"初始构型","i":31,"x":0.2006,"y":-0.056},
    {"p":"h","s":"初始构型","i":32,"x":0.1793,"y":-0.038},
    {"p":"h","s":"初始构型","i":33,"x":0.1645,"y":-0.023},
    {"p":"h","s":"初始构型","i":34,"x":0.1581,"y":-0.027},
    {"p":"h","s":"初始构型","i":35,"x":0.1549,"y":0.0},
    {"p":"h","s":"初始构型","i":36,"x":0.1530,"y":-0.30},
    {"p":"h","s":"初始构型","i":37,"x":0.1519,"y":-0.958},

    {"p":"h","s":"优化构型","i":1,"x":0.3235,"y":-0.446},
    {"p":"h","s":"优化构型","i":2,"x":0.3235,"y":0.778},
    {"p":"h","s":"优化构型","i":3,"x":0.3239,"y":0.20},
    {"p":"h","s":"优化构型","i":4,"x":0.3243,"y":0.06},
    {"p":"h","s":"优化构型","i":5,"x":0.3250,"y":0.045},
    {"p":"h","s":"优化构型","i":6,"x":0.3281,"y":0.056},
    {"p":"h","s":"优化构型","i":7,"x":0.3388,"y":0.052},
    {"p":"h","s":"优化构型","i":8,"x":0.3494,"y":0.05},
    {"p":"h","s":"优化构型","i":9,"x":0.3707,"y":0.054},
    {"p":"h","s":"优化构型","i":10,"x":0.3919,"y":0.068},
    {"p":"h","s":"优化构型","i":11,"x":0.3983,"y":0.063},
    {"p":"h","s":"优化构型","i":12,"x":0.4000,"y":0.0},
    {"p":"h","s":"优化构型","i":13,"x":0.3987,"y":-0.09},
    {"p":"h","s":"优化构型","i":14,"x":0.3940,"y":-0.135},
    {"p":"h","s":"优化构型","i":15,"x":0.3813,"y":-0.142},
    {"p":"h","s":"优化构型","i":16,"x":0.3600,"y":-0.14},
    {"p":"h","s":"优化构型","i":17,"x":0.3494,"y":-0.142},
    {"p":"h","s":"优化构型","i":18,"x":0.3388,"y":-0.158},
    {"p":"h","s":"优化构型","i":19,"x":0.3324,"y":-0.203},
    {"p":"h","s":"优化构型","i":20,"x":0.3281,"y":-0.237},
    {"p":"h","s":"优化构型","i":21,"x":0.3260,"y":-0.225},
    {"p":"h","s":"优化构型","i":22,"x":0.3243,"y":-0.135},
    {"p":"h","s":"优化构型","i":23,"x":0.3239,"y":-0.023},
    {"p":"h","s":"优化构型","i":24,"x":0.3235,"y":-0.446},

    {"p":"i","s":"初始构型","i":1,"x":0.1521,"y":-0.842},
    {"p":"i","s":"初始构型","i":2,"x":0.1521,"y":1.275},
    {"p":"i","s":"初始构型","i":3,"x":0.1526,"y":0.77},
    {"p":"i","s":"初始构型","i":4,"x":0.1534,"y":0.50},
    {"p":"i","s":"初始构型","i":5,"x":0.1549,"y":0.363},
    {"p":"i","s":"初始构型","i":6,"x":0.1581,"y":0.25},
    {"p":"i","s":"初始构型","i":7,"x":0.1624,"y":0.18},
    {"p":"i","s":"初始构型","i":8,"x":0.1667,"y":0.142},
    {"p":"i","s":"初始构型","i":9,"x":0.1731,"y":0.115},
    {"p":"i","s":"初始构型","i":10,"x":0.1838,"y":0.081},
    {"p":"i","s":"初始构型","i":11,"x":0.1945,"y":0.063},
    {"p":"i","s":"初始构型","i":12,"x":0.2138,"y":0.052},
    {"p":"i","s":"初始构型","i":13,"x":0.2266,"y":0.059},
    {"p":"i","s":"初始构型","i":14,"x":0.2373,"y":0.074},
    {"p":"i","s":"初始构型","i":15,"x":0.2502,"y":0.104},
    {"p":"i","s":"初始构型","i":16,"x":0.2587,"y":0.115},
    {"p":"i","s":"初始构型","i":17,"x":0.2801,"y":0.11},
    {"p":"i","s":"初始构型","i":18,"x":0.2994,"y":0.104},
    {"p":"i","s":"初始构型","i":19,"x":0.3058,"y":0.115},
    {"p":"i","s":"初始构型","i":20,"x":0.3112,"y":0.16},
    {"p":"i","s":"初始构型","i":21,"x":0.3144,"y":0.239},
    {"p":"i","s":"初始构型","i":22,"x":0.3133,"y":0.322},
    {"p":"i","s":"初始构型","i":23,"x":0.3101,"y":0.333},
    {"p":"i","s":"初始构型","i":24,"x":0.3015,"y":0.318},
    {"p":"i","s":"初始构型","i":25,"x":0.2908,"y":0.284},
    {"p":"i","s":"初始构型","i":26,"x":0.2801,"y":0.261},
    {"p":"i","s":"初始构型","i":27,"x":0.2694,"y":0.245},
    {"p":"i","s":"初始构型","i":28,"x":0.2502,"y":0.227},
    {"p":"i","s":"初始构型","i":29,"x":0.2373,"y":0.216},
    {"p":"i","s":"初始构型","i":30,"x":0.2159,"y":0.20},
    {"p":"i","s":"初始构型","i":31,"x":0.1945,"y":0.189},
    {"p":"i","s":"初始构型","i":32,"x":0.1731,"y":0.176},
    {"p":"i","s":"初始构型","i":33,"x":0.1699,"y":0.171},
    {"p":"i","s":"初始构型","i":34,"x":0.1667,"y":0.149},
    {"p":"i","s":"初始构型","i":35,"x":0.1635,"y":0.047},
    {"p":"i","s":"初始构型","i":36,"x":0.1613,"y":-0.088},
    {"p":"i","s":"初始构型","i":37,"x":0.1581,"y":-0.313},
    {"p":"i","s":"初始构型","i":38,"x":0.1556,"y":-0.448},
    {"p":"i","s":"初始构型","i":39,"x":0.1538,"y":-0.493},
    {"p":"i","s":"初始构型","i":40,"x":0.1528,"y":-0.583},
    {"p":"i","s":"初始构型","i":41,"x":0.1521,"y":-0.842},

    {"p":"i","s":"优化构型","i":1,"x":0.3236,"y":-0.527},
    {"p":"i","s":"优化构型","i":2,"x":0.3236,"y":1.027},
    {"p":"i","s":"优化构型","i":3,"x":0.3242,"y":0.475},
    {"p":"i","s":"优化构型","i":4,"x":0.3255,"y":0.34},
    {"p":"i","s":"优化构型","i":5,"x":0.3283,"y":0.228},
    {"p":"i","s":"优化构型","i":6,"x":0.3315,"y":0.155},
    {"p":"i","s":"优化构型","i":7,"x":0.3379,"y":0.146},
    {"p":"i","s":"优化构型","i":8,"x":0.3551,"y":0.16},
    {"p":"i","s":"优化构型","i":9,"x":0.3765,"y":0.167},
    {"p":"i","s":"优化构型","i":10,"x":0.3957,"y":0.178},
    {"p":"i","s":"优化构型","i":11,"x":0.3996,"y":0.21},
    {"p":"i","s":"优化构型","i":12,"x":0.4000,"y":0.254},
    {"p":"i","s":"优化构型","i":13,"x":0.3957,"y":0.30},
    {"p":"i","s":"优化构型","i":14,"x":0.3765,"y":0.286},
    {"p":"i","s":"优化构型","i":15,"x":0.3551,"y":0.273},
    {"p":"i","s":"优化构型","i":16,"x":0.3358,"y":0.264},
    {"p":"i","s":"优化构型","i":17,"x":0.3336,"y":0.25},
    {"p":"i","s":"优化构型","i":18,"x":0.3315,"y":0.205},
    {"p":"i","s":"优化构型","i":19,"x":0.3294,"y":0.093},
    {"p":"i","s":"优化构型","i":20,"x":0.3272,"y":-0.088},
    {"p":"i","s":"优化构型","i":21,"x":0.3251,"y":-0.268},
    {"p":"i","s":"优化构型","i":22,"x":0.3240,"y":-0.336},
    {"p":"i","s":"优化构型","i":23,"x":0.3236,"y":-0.527}
  ]},
  "columns": 3,
  "spacing": {"row": 348, "column": 299},
  "bounds": "flush",
  "resolve": {
    "scale": {"color": "independent", "strokeDash": "independent"},
    "legend": {"color": "independent", "strokeDash": "independent"}
  },
  "concat": [
    {
      "width": 948, "height": 718,
      "title": "(a) J=3.10, 0.05倍叶高",
      "resolve": {"axis": {"x": "independent", "y": "independent"}},
      "layer": [
        {
          "transform": [{"filter": "datum.p == 'a' && datum.s == '初始构型'"}],
          "mark": {"type": "line", "strokeWidth": 5, "strokeJoin": "round", "clip": true},
          "encoding": {
            "x": {"field": "x", "type": "quantitative", "scale": {"domain": [0.15, 0.32], "nice": false, "zero": false}, "axis": {"orient": "bottom", "values": [0.15, 0.2, 0.25, 0.3], "format": ".2f", "title": "z/m"}},
            "y": {"field": "y", "type": "quantitative", "scale": {"domain": [-1.5, 1], "nice": false, "zero": false}, "axis": {"orient": "left", "values": [-1.5, -1, -0.5, 0, 0.5, 1], "labelExpr": "datum.value == 0 ? '0' : format(datum.value, '.1f')", "title": "压力系数"}},
            "order": {"field": "i", "type": "quantitative"},
            "color": {"field": "s", "type": "nominal", "scale": {"domain": ["初始构型", "优化构型"], "range": ["#1414dc", "#ff0000"]}, "legend": {"orient": "none", "legendX": 540, "legendY": 20}},
            "strokeDash": {"field": "s", "type": "nominal", "scale": {"domain": ["初始构型", "优化构型"], "range": [[1, 0], [18, 6, 5, 6]]}, "legend": {"orient": "none", "legendX": 540, "legendY": 20}}
          }
        },
        {
          "transform": [{"filter": "datum.p == 'a' && datum.s == '优化构型'"}],
          "mark": {"type": "line", "strokeWidth": 6, "strokeJoin": "round", "clip": true},
          "encoding": {
            "x": {"field": "x", "type": "quantitative", "scale": {"domain": [0.15, 0.32], "nice": false, "zero": false}, "axis": {"orient": "top", "values": [0.15, 0.2, 0.25, 0.3], "labels": false, "grid": false, "title": null}},
            "y": {"field": "y", "type": "quantitative", "scale": {"domain": [-1.5, 1], "nice": false, "zero": false}, "axis": {"orient": "right", "values": [-1.5, -1, -0.5, 0, 0.5, 1], "labels": false, "grid": false, "title": null}},
            "order": {"field": "i", "type": "quantitative"},
            "color": {"field": "s", "type": "nominal", "scale": {"domain": ["初始构型", "优化构型"], "range": ["#1414dc", "#ff0000"]}, "legend": {"orient": "none", "legendX": 540, "legendY": 20}},
            "strokeDash": {"field": "s", "type": "nominal", "scale": {"domain": ["初始构型", "优化构型"], "range": [[1, 0], [18, 6, 5, 6]]}, "legend": {"orient": "none", "legendX": 540, "legendY": 20}}
          }
        }
      ]
    },
    {
      "width": 948, "height": 718,
      "title": "(b) J=3.23, 0.05倍叶高",
      "resolve": {"axis": {"x": "independent", "y": "independent"}},
      "layer": [
        {
          "transform": [{"filter": "datum.p == 'b' && datum.s == '初始构型'"}],
          "mark": {"type": "line", "strokeWidth": 5, "strokeJoin": "round", "clip": true},
          "encoding": {
            "x": {"field": "x", "type": "quantitative", "scale": {"domain": [0.15, 0.32], "nice": false, "zero": false}, "axis": {"orient": "bottom", "values": [0.15, 0.2, 0.25, 0.3], "format": ".2f", "title": "z/m"}},
            "y": {"field": "y", "type": "quantitative", "scale": {"domain": [-1.5, 1], "nice": false, "zero": false}, "axis": {"orient": "left", "values": [-1.5, -1, -0.5, 0, 0.5, 1], "labelExpr": "datum.value == 0 ? '0' : format(datum.value, '.1f')", "title": "压力系数"}},
            "order": {"field": "i", "type": "quantitative"},
            "color": {"field": "s", "type": "nominal", "scale": {"domain": ["初始构型", "优化构型"], "range": ["#1414dc", "#ff0000"]}, "legend": {"orient": "none", "legendX": 540, "legendY": 20}},
            "strokeDash": {"field": "s", "type": "nominal", "scale": {"domain": ["初始构型", "优化构型"], "range": [[1, 0], [18, 6, 5, 6]]}, "legend": {"orient": "none", "legendX": 540, "legendY": 20}}
          }
        },
        {
          "transform": [{"filter": "datum.p == 'b' && datum.s == '优化构型'"}],
          "mark": {"type": "line", "strokeWidth": 6, "strokeJoin": "round", "clip": true},
          "encoding": {
            "x": {"field": "x", "type": "quantitative", "scale": {"domain": [0.15, 0.32], "nice": false, "zero": false}, "axis": {"orient": "top", "values": [0.15, 0.2, 0.25, 0.3], "labels": false, "grid": false, "title": null}},
            "y": {"field": "y", "type": "quantitative", "scale": {"domain": [-1.5, 1], "nice": false, "zero": false}, "axis": {"orient": "right", "values": [-1.5, -1, -0.5, 0, 0.5, 1], "labels": false, "grid": false, "title": null}},
            "order": {"field": "i", "type": "quantitative"},
            "color": {"field": "s", "type": "nominal", "scale": {"domain": ["初始构型", "优化构型"], "range": ["#1414dc", "#ff0000"]}, "legend": {"orient": "none", "legendX": 540, "legendY": 20}},
            "strokeDash": {"field": "s", "type": "nominal", "scale": {"domain": ["初始构型", "优化构型"], "range": [[1, 0], [18, 6, 5, 6]]}, "legend": {"orient": "none", "legendX": 540, "legendY": 20}}
          }
        }
      ]
    },
    {
      "width": 948, "height": 718,
      "title": "(c) J=3.71, 0.05倍叶高",
      "resolve": {"axis": {"x": "independent", "y": "independent"}},
      "layer": [
        {
          "transform": [{"filter": "datum.p == 'c' && datum.s == '初始构型'"}],
          "mark": {"type": "line", "strokeWidth": 5, "strokeJoin": "round", "clip": true},
          "encoding": {
            "x": {"field": "x", "type": "quantitative", "scale": {"domain": [0.15, 0.32], "nice": false, "zero": false}, "axis": {"orient": "bottom", "values": [0.15, 0.2, 0.25, 0.3], "format": ".2f", "title": "z/m"}},
            "y": {"field": "y", "type": "quantitative", "scale": {"domain": [-1.5, 1], "nice": false, "zero": false}, "axis": {"orient": "left", "values": [-1.5, -1, -0.5, 0, 0.5, 1], "labelExpr": "datum.value == 0 ? '0' : format(datum.value, '.1f')", "title": "压力系数"}},
            "order": {"field": "i", "type": "quantitative"},
            "color": {"field": "s", "type": "nominal", "scale": {"domain": ["初始构型", "优化构型"], "range": ["#1414dc", "#ff0000"]}, "legend": {"orient": "none", "legendX": 540, "legendY": 20}},
            "strokeDash": {"field": "s", "type": "nominal", "scale": {"domain": ["初始构型", "优化构型"], "range": [[1, 0], [18, 6, 5, 6]]}, "legend": {"orient": "none", "legendX": 540, "legendY": 20}}
          }
        },
        {
          "transform": [{"filter": "datum.p == 'c' && datum.s == '优化构型'"}],
          "mark": {"type": "line", "strokeWidth": 6, "strokeJoin": "round", "clip": true},
          "encoding": {
            "x": {"field": "x", "type": "quantitative", "scale": {"domain": [0.15, 0.32], "nice": false, "zero": false}, "axis": {"orient": "top", "values": [0.15, 0.2, 0.25, 0.3], "labels": false, "grid": false, "title": null}},
            "y": {"field": "y", "type": "quantitative", "scale": {"domain": [-1.5, 1], "nice": false, "zero": false}, "axis": {"orient": "right", "values": [-1.5, -1, -0.5, 0, 0.5, 1], "labels": false, "grid": false, "title": null}},
            "order": {"field": "i", "type": "quantitative"},
            "color": {"field": "s", "type": "nominal", "scale": {"domain": ["初始构型", "优化构型"], "range": ["#1414dc", "#ff0000"]}, "legend": {"orient": "none", "legendX": 540, "legendY": 20}},
            "strokeDash": {"field": "s", "type": "nominal", "scale": {"domain": ["初始构型", "优化构型"], "range": [[1, 0], [18, 6, 5, 6]]}, "legend": {"orient": "none", "legendX": 540, "legendY": 20}}
          }
        }
      ]
    },
    {
      "width": 948, "height": 718,
      "title": "(d) J=3.10, 0.5倍叶高",
      "resolve": {"axis": {"x": "independent", "y": "independent"}},
      "layer": [
        {
          "transform": [{"filter": "datum.p == 'd' && datum.s == '初始构型'"}],
          "mark": {"type": "line", "strokeWidth": 5, "strokeJoin": "round", "clip": true},
          "encoding": {
            "x": {"field": "x", "type": "quantitative", "scale": {"domain": [0.15, 0.35], "nice": false, "zero": false}, "axis": {"orient": "bottom", "values": [0.15, 0.2, 0.25, 0.3, 0.35], "format": ".2f", "title": "z/m"}},
            "y": {"field": "y", "type": "quantitative", "scale": {"domain": [-1.5, 1.5], "nice": false, "zero": false}, "axis": {"orient": "left", "values": [-1.5, -1, -0.5, 0, 0.5, 1, 1.5], "labelExpr": "datum.value == 0 ? '0' : format(datum.value, '.1f')", "title": "压力系数"}},
            "order": {"field": "i", "type": "quantitative"},
            "color": {"field": "s", "type": "nominal", "scale": {"domain": ["初始构型", "优化构型"], "range": ["#1414dc", "#ff0000"]}, "legend": {"orient": "none", "legendX": 540, "legendY": 20}},
            "strokeDash": {"field": "s", "type": "nominal", "scale": {"domain": ["初始构型", "优化构型"], "range": [[1, 0], [18, 6, 5, 6]]}, "legend": {"orient": "none", "legendX": 540, "legendY": 20}}
          }
        },
        {
          "transform": [{"filter": "datum.p == 'd' && datum.s == '优化构型'"}],
          "mark": {"type": "line", "strokeWidth": 6, "strokeJoin": "round", "clip": true},
          "encoding": {
            "x": {"field": "x", "type": "quantitative", "scale": {"domain": [0.15, 0.35], "nice": false, "zero": false}, "axis": {"orient": "top", "values": [0.15, 0.2, 0.25, 0.3, 0.35], "labels": false, "grid": false, "title": null}},
            "y": {"field": "y", "type": "quantitative", "scale": {"domain": [-1.5, 1.5], "nice": false, "zero": false}, "axis": {"orient": "right", "values": [-1.5, -1, -0.5, 0, 0.5, 1, 1.5], "labels": false, "grid": false, "title": null}},
            "order": {"field": "i", "type": "quantitative"},
            "color": {"field": "s", "type": "nominal", "scale": {"domain": ["初始构型", "优化构型"], "range": ["#1414dc", "#ff0000"]}, "legend": {"orient": "none", "legendX": 540, "legendY": 20}},
            "strokeDash": {"field": "s", "type": "nominal", "scale": {"domain": ["初始构型", "优化构型"], "range": [[1, 0], [18, 6, 5, 6]]}, "legend": {"orient": "none", "legendX": 540, "legendY": 20}}
          }
        }
      ]
    },
    {
      "width": 948, "height": 718,
      "title": "(e) J=3.23, 0.5倍叶高",
      "resolve": {"axis": {"x": "independent", "y": "independent"}},
      "layer": [
        {
          "transform": [{"filter": "datum.p == 'e' && datum.s == '初始构型'"}],
          "mark": {"type": "line", "strokeWidth": 5, "strokeJoin": "round", "clip": true},
          "encoding": {
            "x": {"field": "x", "type": "quantitative", "scale": {"domain": [0.15, 0.35], "nice": false, "zero": false}, "axis": {"orient": "bottom", "values": [0.15, 0.2, 0.25, 0.3, 0.35], "format": ".2f", "title": "z/m"}},
            "y": {"field": "y", "type": "quantitative", "scale": {"domain": [-1.5, 1.5], "nice": false, "zero": false}, "axis": {"orient": "left", "values": [-1.5, -1, -0.5, 0, 0.5, 1, 1.5], "labelExpr": "datum.value == 0 ? '0' : format(datum.value, '.1f')", "title": "压力系数"}},
            "order": {"field": "i", "type": "quantitative"},
            "color": {"field": "s", "type": "nominal", "scale": {"domain": ["初始构型", "优化构型"], "range": ["#1414dc", "#ff0000"]}, "legend": {"orient": "none", "legendX": 540, "legendY": 20}},
            "strokeDash": {"field": "s", "type": "nominal", "scale": {"domain": ["初始构型", "优化构型"], "range": [[1, 0], [18, 6, 5, 6]]}, "legend": {"orient": "none", "legendX": 540, "legendY": 20}}
          }
        },
        {
          "transform": [{"filter": "datum.p == 'e' && datum.s == '优化构型'"}],
          "mark": {"type": "line", "strokeWidth": 6, "strokeJoin": "round", "clip": true},
          "encoding": {
            "x": {"field": "x", "type": "quantitative", "scale": {"domain": [0.15, 0.35], "nice": false, "zero": false}, "axis": {"orient": "top", "values": [0.15, 0.2, 0.25, 0.3, 0.35], "labels": false, "grid": false, "title": null}},
            "y": {"field": "y", "type": "quantitative", "scale": {"domain": [-1.5, 1.5], "nice": false, "zero": false}, "axis": {"orient": "right", "values": [-1.5, -1, -0.5, 0, 0.5, 1, 1.5], "labels": false, "grid": false, "title": null}},
            "order": {"field": "i", "type": "quantitative"},
            "color": {"field": "s", "type": "nominal", "scale": {"domain": ["初始构型", "优化构型"], "range": ["#1414dc", "#ff0000"]}, "legend": {"orient": "none", "legendX": 540, "legendY": 20}},
            "strokeDash": {"field": "s", "type": "nominal", "scale": {"domain": ["初始构型", "优化构型"], "range": [[1, 0], [18, 6, 5, 6]]}, "legend": {"orient": "none", "legendX": 540, "legendY": 20}}
          }
        }
      ]
    },
    {
      "width": 948, "height": 718,
      "title": "(f) J=3.71, 0.5倍叶高",
      "resolve": {"axis": {"x": "independent", "y": "independent"}},
      "layer": [
        {
          "transform": [{"filter": "datum.p == 'f' && datum.s == '初始构型'"}],
          "mark": {"type": "line", "strokeWidth": 5, "strokeJoin": "round", "clip": true},
          "encoding": {
            "x": {"field": "x", "type": "quantitative", "scale": {"domain": [0.15, 0.35], "nice": false, "zero": false}, "axis": {"orient": "bottom", "values": [0.15, 0.2, 0.25, 0.3, 0.35], "format": ".2f", "title": "z/m"}},
            "y": {"field": "y", "type": "quantitative", "scale": {"domain": [-2, 1.5], "nice": false, "zero": false}, "axis": {"orient": "left", "values": [-2, -1.5, -1, -0.5, 0, 0.5, 1, 1.5], "labelExpr": "datum.value == 0 ? '0' : format(datum.value, '.1f')", "title": "压力系数"}},
            "order": {"field": "i", "type": "quantitative"},
            "color": {"field": "s", "type": "nominal", "scale": {"domain": ["初始构型", "优化构型"], "range": ["#1414dc", "#ff0000"]}, "legend": {"orient": "none", "legendX": 540, "legendY": 20}},
            "strokeDash": {"field": "s", "type": "nominal", "scale": {"domain": ["初始构型", "优化构型"], "range": [[1, 0], [18, 6, 5, 6]]}, "legend": {"orient": "none", "legendX": 540, "legendY": 20}}
          }
        },
        {
          "transform": [{"filter": "datum.p == 'f' && datum.s == '优化构型'"}],
          "mark": {"type": "line", "strokeWidth": 6, "strokeJoin": "round", "clip": true},
          "encoding": {
            "x": {"field": "x", "type": "quantitative", "scale": {"domain": [0.15, 0.35], "nice": false, "zero": false}, "axis": {"orient": "top", "values": [0.15, 0.2, 0.25, 0.3, 0.35], "labels": false, "grid": false, "title": null}},
            "y": {"field": "y", "type": "quantitative", "scale": {"domain": [-2, 1.5], "nice": false, "zero": false}, "axis": {"orient": "right", "values": [-2, -1.5, -1, -0.5, 0, 0.5, 1, 1.5], "labels": false, "grid": false, "title": null}},
            "order": {"field": "i", "type": "quantitative"},
            "color": {"field": "s", "type": "nominal", "scale": {"domain": ["初始构型", "优化构型"], "range": ["#1414dc", "#ff0000"]}, "legend": {"orient": "none", "legendX": 540, "legendY": 20}},
            "strokeDash": {"field": "s", "type": "nominal", "scale": {"domain": ["初始构型", "优化构型"], "range": [[1, 0], [18, 6, 5, 6]]}, "legend": {"orient": "none", "legendX": 540, "legendY": 20}}
          }
        }
      ]
    },
    {
      "width": 948, "height": 718,
      "title": "(g) J=3.10, 0.9倍叶高",
      "resolve": {"axis": {"x": "independent", "y": "independent"}},
      "layer": [
        {
          "transform": [{"filter": "datum.p == 'g' && datum.s == '初始构型'"}],
          "mark": {"type": "line", "strokeWidth": 5, "strokeJoin": "round", "clip": true},
          "encoding": {
            "x": {"field": "x", "type": "quantitative", "scale": {"domain": [0.15, 0.4], "nice": false, "zero": false}, "axis": {"orient": "bottom", "values": [0.15, 0.2, 0.25, 0.3, 0.35, 0.4], "format": ".2f", "title": "z/m"}},
            "y": {"field": "y", "type": "quantitative", "scale": {"domain": [-1, 1.5], "nice": false, "zero": false}, "axis": {"orient": "left", "values": [-1, -0.5, 0, 0.5, 1, 1.5], "labelExpr": "datum.value == 0 ? '0' : format(datum.value, '.1f')", "title": "压力系数"}},
            "order": {"field": "i", "type": "quantitative"},
            "color": {"field": "s", "type": "nominal", "scale": {"domain": ["初始构型", "优化构型"], "range": ["#1414dc", "#ff0000"]}, "legend": {"orient": "none", "legendX": 540, "legendY": 20}},
            "strokeDash": {"field": "s", "type": "nominal", "scale": {"domain": ["初始构型", "优化构型"], "range": [[1, 0], [18, 6, 5, 6]]}, "legend": {"orient": "none", "legendX": 540, "legendY": 20}}
          }
        },
        {
          "transform": [{"filter": "datum.p == 'g' && datum.s == '优化构型'"}],
          "mark": {"type": "line", "strokeWidth": 6, "strokeJoin": "round", "clip": true},
          "encoding": {
            "x": {"field": "x", "type": "quantitative", "scale": {"domain": [0.15, 0.4], "nice": false, "zero": false}, "axis": {"orient": "top", "values": [0.15, 0.2, 0.25, 0.3, 0.35, 0.4], "labels": false, "grid": false, "title": null}},
            "y": {"field": "y", "type": "quantitative", "scale": {"domain": [-1, 1.5], "nice": false, "zero": false}, "axis": {"orient": "right", "values": [-1, -0.5, 0, 0.5, 1, 1.5], "labels": false, "grid": false, "title": null}},
            "order": {"field": "i", "type": "quantitative"},
            "color": {"field": "s", "type": "nominal", "scale": {"domain": ["初始构型", "优化构型"], "range": ["#1414dc", "#ff0000"]}, "legend": {"orient": "none", "legendX": 540, "legendY": 20}},
            "strokeDash": {"field": "s", "type": "nominal", "scale": {"domain": ["初始构型", "优化构型"], "range": [[1, 0], [18, 6, 5, 6]]}, "legend": {"orient": "none", "legendX": 540, "legendY": 20}}
          }
        }
      ]
    },
    {
      "width": 948, "height": 718,
      "title": "(h) J=3.23, 0.9倍叶高",
      "resolve": {"axis": {"x": "independent", "y": "independent"}},
      "layer": [
        {
          "transform": [{"filter": "datum.p == 'h' && datum.s == '初始构型'"}],
          "mark": {"type": "line", "strokeWidth": 5, "strokeJoin": "round", "clip": true},
          "encoding": {
            "x": {"field": "x", "type": "quantitative", "scale": {"domain": [0.15, 0.4], "nice": false, "zero": false}, "axis": {"orient": "bottom", "values": [0.15, 0.2, 0.25, 0.3, 0.35, 0.4], "format": ".2f", "title": "z/m"}},
            "y": {"field": "y", "type": "quantitative", "scale": {"domain": [-1, 1.5], "nice": false, "zero": false}, "axis": {"orient": "left", "values": [-1, -0.5, 0, 0.5, 1, 1.5], "labelExpr": "datum.value == 0 ? '0' : format(datum.value, '.1f')", "title": "压力系数"}},
            "order": {"field": "i", "type": "quantitative"},
            "color": {"field": "s", "type": "nominal", "scale": {"domain": ["初始构型", "优化构型"], "range": ["#1414dc", "#ff0000"]}, "legend": {"orient": "none", "legendX": 540, "legendY": 20}},
            "strokeDash": {"field": "s", "type": "nominal", "scale": {"domain": ["初始构型", "优化构型"], "range": [[1, 0], [18, 6, 5, 6]]}, "legend": {"orient": "none", "legendX": 540, "legendY": 20}}
          }
        },
        {
          "transform": [{"filter": "datum.p == 'h' && datum.s == '优化构型'"}],
          "mark": {"type": "line", "strokeWidth": 6, "strokeJoin": "round", "clip": true},
          "encoding": {
            "x": {"field": "x", "type": "quantitative", "scale": {"domain": [0.15, 0.4], "nice": false, "zero": false}, "axis": {"orient": "top", "values": [0.15, 0.2, 0.25, 0.3, 0.35, 0.4], "labels": false, "grid": false, "title": null}},
            "y": {"field": "y", "type": "quantitative", "scale": {"domain": [-1, 1.5], "nice": false, "zero": false}, "axis": {"orient": "right", "values": [-1, -0.5, 0, 0.5, 1, 1.5], "labels": false, "grid": false, "title": null}},
            "order": {"field": "i", "type": "quantitative"},
            "color": {"field": "s", "type": "nominal", "scale": {"domain": ["初始构型", "优化构型"], "range": ["#1414dc", "#ff0000"]}, "legend": {"orient": "none", "legendX": 540, "legendY": 20}},
            "strokeDash": {"field": "s", "type": "nominal", "scale": {"domain": ["初始构型", "优化构型"], "range": [[1, 0], [18, 6, 5, 6]]}, "legend": {"orient": "none", "legendX": 540, "legendY": 20}}
          }
        }
      ]
    },
    {
      "width": 948, "height": 718,
      "title": "(i) J=3.71, 0.9倍叶高",
      "resolve": {"axis": {"x": "independent", "y": "independent"}},
      "layer": [
        {
          "transform": [{"filter": "datum.p == 'i' && datum.s == '初始构型'"}],
          "mark": {"type": "line", "strokeWidth": 5, "strokeJoin": "round", "clip": true},
          "encoding": {
            "x": {"field": "x", "type": "quantitative", "scale": {"domain": [0.15, 0.4], "nice": false, "zero": false}, "axis": {"orient": "bottom", "values": [0.15, 0.2, 0.25, 0.3, 0.35, 0.4], "format": ".2f", "title": "z/m"}},
            "y": {"field": "y", "type": "quantitative", "scale": {"domain": [-1, 1.5], "nice": false, "zero": false}, "axis": {"orient": "left", "values": [-1, -0.5, 0, 0.5, 1, 1.5], "labelExpr": "datum.value == 0 ? '0' : format(datum.value, '.1f')", "title": "压力系数", "grid": false, "ticks": false}},
            "order": {"field": "i", "type": "quantitative"},
            "color": {"field": "s", "type": "nominal", "scale": {"domain": ["初始构型", "优化构型"], "range": ["#1414dc", "#ff0000"]}, "legend": {"orient": "none", "legendX": 47, "legendY": 10}},
            "strokeDash": {"field": "s", "type": "nominal", "scale": {"domain": ["初始构型", "优化构型"], "range": [[1, 0], [18, 6, 5, 6]]}, "legend": {"orient": "none", "legendX": 47, "legendY": 10}}
          }
        },
        {
          "transform": [{"filter": "datum.p == 'i' && datum.s == '优化构型'"}],
          "mark": {"type": "line", "strokeWidth": 6, "strokeJoin": "round", "clip": true},
          "encoding": {
            "x": {"field": "x", "type": "quantitative", "scale": {"domain": [0.15, 0.4], "nice": false, "zero": false}, "axis": {"orient": "top", "values": [0.15, 0.2, 0.25, 0.3, 0.35, 0.4], "labels": false, "grid": false, "title": null}},
            "y": {"field": "y", "type": "quantitative", "scale": {"domain": [-1, 1.5], "nice": false, "zero": false}, "axis": {"orient": "right", "values": [-0.5833, -0.1667, 0.25, 0.6667, 1.0833], "labels": false, "grid": true, "title": null}},
            "order": {"field": "i", "type": "quantitative"},
            "color": {"field": "s", "type": "nominal", "scale": {"domain": ["初始构型", "优化构型"], "range": ["#1414dc", "#ff0000"]}, "legend": {"orient": "none", "legendX": 47, "legendY": 10}},
            "strokeDash": {"field": "s", "type": "nominal", "scale": {"domain": ["初始构型", "优化构型"], "range": [[1, 0], [18, 6, 5, 6]]}, "legend": {"orient": "none", "legendX": 47, "legendY": 10}}
          }
        }
      ]
    }
  ],
  "config": {
    "view": {"stroke": "black", "strokeWidth": 3},
    "axis": {
      "domain": false,
      "grid": true,
      "gridColor": "#bcbcbc",
      "gridWidth": 2,
      "gridOpacity": 1,
      "ticks": true,
      "tickSize": -12,
      "tickWidth": 3,
      "tickColor": "black",
      "labelFont": "Liberation Serif",
      "labelFontSize": 64,
      "labelColor": "black",
      "labelFlush": false,
      "labelOverlap": false,
      "titleFontSize": 64,
      "titleFontWeight": "normal",
      "titleColor": "black"
    },
    "axisX": {"labelPadding": 30, "titlePadding": 16, "titleFont": "Liberation Serif"},
    "axisY": {"labelPadding": 39, "titlePadding": 21, "titleFont": "Noto Sans CJK SC"},
    "legend": {
      "title": null,
      "padding": 8,
      "fillColor": "white",
      "labelFont": "Noto Sans CJK SC",
      "labelFontSize": 64,
      "labelColor": "black",
      "labelLimit": 0,
      "labelOffset": 5,
      "symbolType": "stroke",
      "symbolSize": 7569,
      "symbolStrokeWidth": 4,
      "rowPadding": 0
    },
    "title": {
      "orient": "bottom",
      "anchor": "middle",
      "font": "Liberation Serif, Noto Sans CJK SC",
      "fontSize": 64,
      "fontWeight": "normal",
      "color": "black",
      "offset": 16
    }
  }
}
